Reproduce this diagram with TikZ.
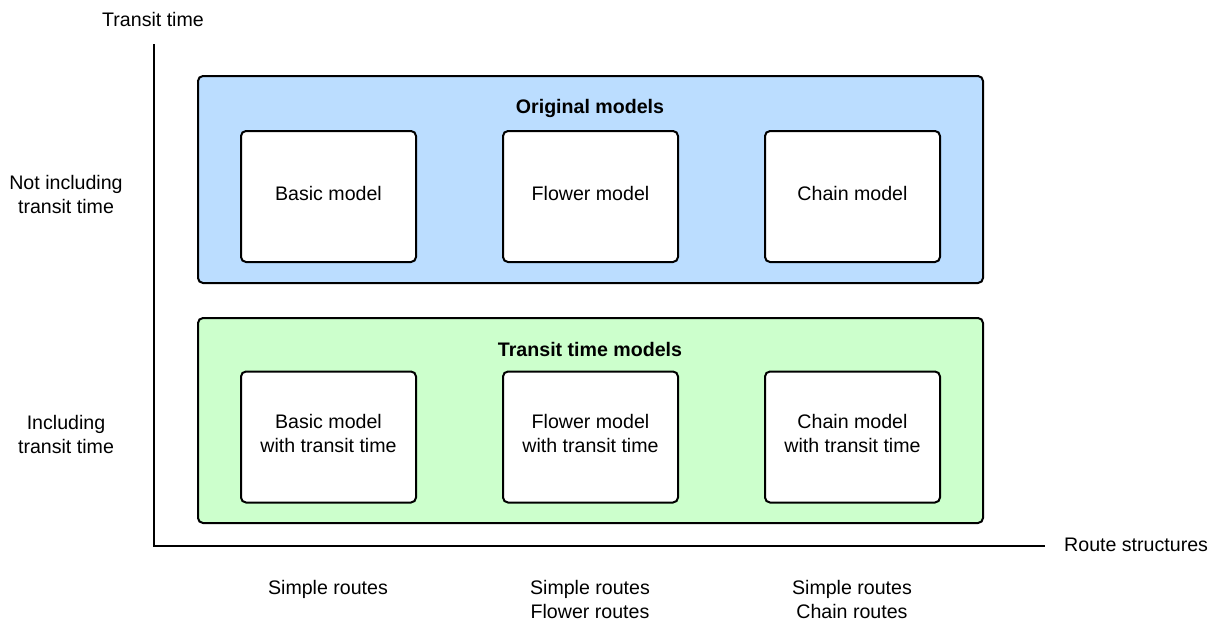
\documentclass[tikz,border=0pt]{standalone}
\usepackage{fontspec}
\setmainfont{Liberation Sans}
\definecolor{origfill}{HTML}{BBDDFF}
\definecolor{transfill}{HTML}{CCFFCC}
\begin{document}
\begin{tikzpicture}[x=1pt,y=-1pt,
  txt/.style={font=\fontsize{19.6}{24}\selectfont, align=center, inner sep=0pt},
  title/.style={txt, font=\fontsize{19.6}{24}\selectfont\bfseries},
  group/.style={draw=black, line width=2pt, rounded corners=5pt, inner sep=0pt},
  model/.style={draw=black, fill=white, line width=2pt, rounded corners=5pt,
    minimum width=175pt, minimum height=131pt, inner sep=0pt},
  axis/.style={line width=2pt}]
\useasboundingbox (0,0) rectangle (1215,621);

% axes
\coordinate (origin) at (154,546);
\coordinate (ytop) at (154,44);
\coordinate (xend) at (1045,546);
\draw[axis] (ytop) -- (origin) -- (xend);
\node[txt] (ylab) at (153,19) {Transit time};
\node[txt, anchor=west] (xlab) at (1064,545) {Route structures};

% group backgrounds
\draw[group, fill=origfill] (198,76) rectangle (983,283);
\draw[group, fill=transfill] (198,318) rectangle (983,523);
\node[title] (origtitle) at (590,108.5) {Original models};
\node[title] (transtitle) at (590,349.5) {Transit time models};

% model boxes
\node[model] (basic) at (328.5,196.5) {};
\node[model] (flower) at (590.5,196.5) {};
\node[model] (chain) at (852.5,196.5) {};
\node[model] (basict) at (328.5,437) {};
\node[model] (flowert) at (590.5,437) {};
\node[model] (chaint) at (852.5,437) {};
\node[txt] (basic-t) at ([yshift=3pt]basic.center) {Basic model};
\node[txt] (flower-t) at ([yshift=3pt]flower.center) {Flower model};
\node[txt] (chain-t) at ([yshift=3pt]chain.center) {Chain model};
\node[txt] (basict-t) at ([yshift=4pt]basict.center) {Basic model\\with transit time};
\node[txt] (flowert-t) at ([yshift=4pt]flowert.center) {Flower model\\with transit time};
\node[txt] (chaint-t) at ([yshift=4pt]chaint.center) {Chain model\\with transit time};

% row labels
\node[txt] (rowtop) at (66,194) {Not including\\transit time};
\node[txt] (rowbot) at (66,434) {Including\\transit time};

% column labels
\node[txt] (col1) at (328,589) {Simple routes};
\node[txt] (col2) at (590,599) {Simple routes\\Flower routes};
\node[txt] (col3) at (852,599) {Simple routes\\Chain routes};
\end{tikzpicture}
\end{document}
